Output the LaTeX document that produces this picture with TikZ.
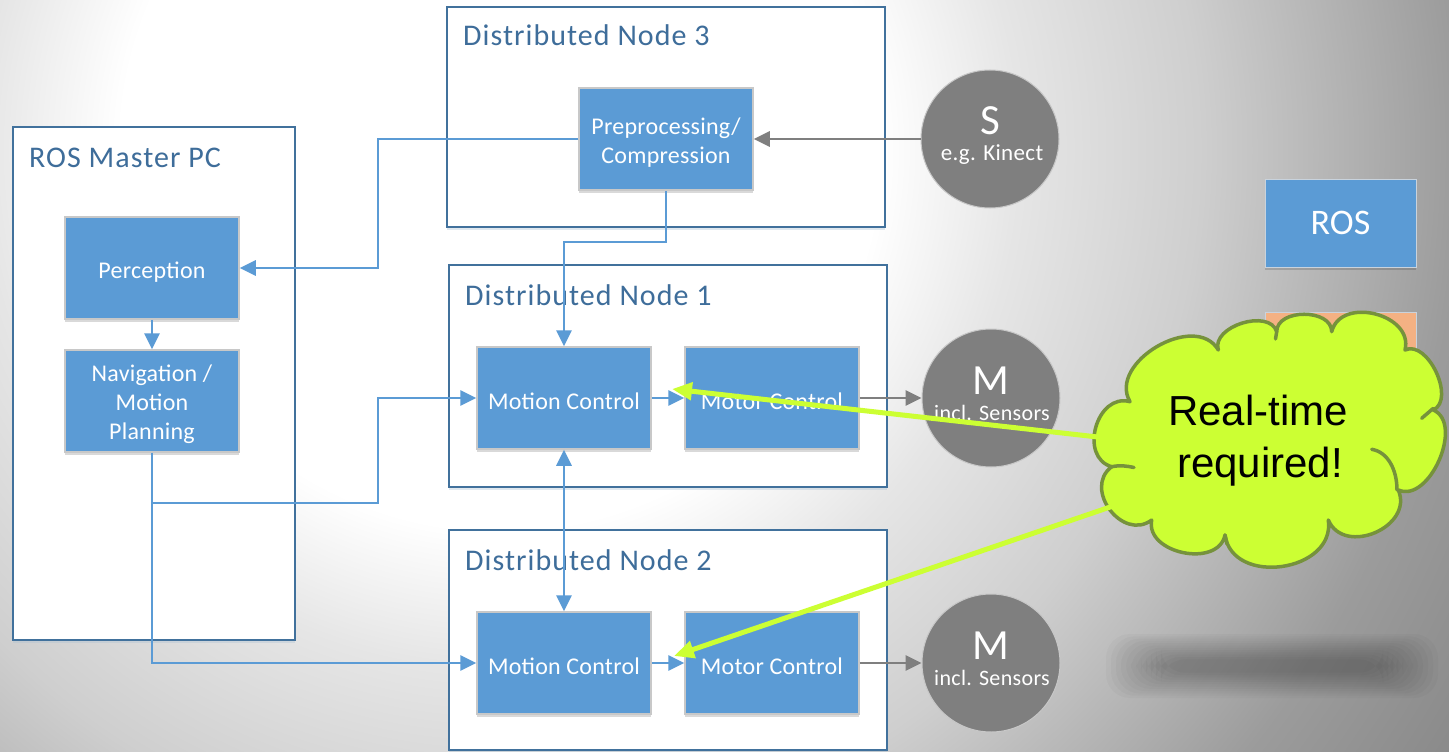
\documentclass[tikz,border=0pt]{standalone}
\usepackage{fontspec}
\setmainfont{Carlito}
\newfontfamily\helv{Liberation Sans}
\newfontfamily\ttlfont[LetterSpace=3.5]{Carlito}
\newfontfamily\blkfont[LetterSpace=1]{Carlito}
\newfontfamily\circfont[LetterSpace=1.5]{Carlito}
\newcommand{\tallstrut}{\rule{0pt}{24pt}}
\usetikzlibrary{arrows.meta,shadows,calc}

\definecolor{boxblue}{HTML}{5B9BD5}
\definecolor{frameblue}{HTML}{41719C}
\definecolor{titleblue}{HTML}{3E6D9A}
\definecolor{lineblue}{HTML}{5B9BD5}
\definecolor{boxedge}{HTML}{C8C8C8}
\definecolor{circgray}{HTML}{7F7F7F}
\definecolor{limegreen}{HTML}{CCFF33}
\definecolor{cloudedge}{HTML}{76923C}
\definecolor{orangebox}{HTML}{F4B183}
\definecolor{legendedge}{HTML}{C9D3DD}
\definecolor{bgA}{gray}{0.90}
\definecolor{bgB}{gray}{0.81}
\definecolor{bgC}{gray}{0.61}
\definecolor{bgD}{gray}{0.53}

\pgfdeclareradialshading{bgshade}{\pgfpointorigin}{color(0bp)=(white); color(7.9bp)=(white); color(10.8bp)=(bgA); color(14.6bp)=(bgB); color(20bp)=(bgC); color(24bp)=(bgD); color(50bp)=(bgD)}

\begin{document}
\begin{tikzpicture}[x=1pt,y=-1pt,
  frame/.style={draw=frameblue, line width=1.8pt, fill=white, inner sep=0pt,
    drop shadow={shadow xshift=0pt, shadow yshift=-3pt, opacity=0.35, fill=frameblue!45}},
  blk/.style={draw=boxedge, line width=1.5pt, fill=boxblue, text=white, align=center,
    inner sep=0pt, minimum width=174pt, minimum height=102pt,
    font=\blkfont\fontsize{24}{29}\selectfont,
    drop shadow={shadow xshift=0pt, shadow yshift=-3pt, opacity=0.15, fill=black}},
  ttl/.style={text=titleblue, font=\ttlfont\fontsize{30}{36}\selectfont, anchor=base west, inner sep=0pt},
  circ/.style={circle, fill=circgray, draw=boxedge, line width=1pt, minimum size=138pt, inner sep=0pt},
  bigl/.style={text=white, font=\fontsize{43}{48}\selectfont, anchor=base, inner sep=0pt},
  smalll/.style={text=white, font=\circfont\fontsize{22}{25}\selectfont, anchor=base, inner sep=0pt},
  legend/.style={draw=legendedge, line width=1pt, minimum width=151pt, minimum height=88pt,
    inner sep=0pt, text=white, font=\fontsize{36}{40}\selectfont,
    drop shadow={shadow xshift=0pt, shadow yshift=-3pt, opacity=0.15, fill=black}},
  conn/.style={draw=lineblue, line width=2.8pt},
  gconn/.style={draw=circgray, line width=2.8pt},
  >={Triangle[length=16pt,width=15pt]},
  cloudst/.style={draw=cloudedge, fill=limegreen, line width=3.5pt, line join=round},
  cloudin/.style={draw=cloudedge, line width=3.5pt, line cap=round},
  garrow/.style={draw=limegreen, line width=5pt, -{Triangle[length=20pt,width=17pt]}},
  cloudtxt/.style={font=\helv\fontsize{42}{52}\selectfont, text=black, anchor=base, inner sep=0pt}
]
\useasboundingbox (0,0) rectangle (1449,752);

% background
\begin{scope}
  \clip (0,0) rectangle (1449,752);
  \shade[shading=bgshade] (500,150) circle (1200pt);
  \foreach \i in {0,...,11} {
    \fill[black, opacity=0.024, rounded corners=24pt]
      (1106+\i*5, 634+\i*2.3) rectangle (1438-\i*5, 698-\i*2.3);
  }
\end{scope}

% containers
\node[frame, minimum width=282pt, minimum height=513pt] (master) at (154,383.5) {};
\node[frame, minimum width=438pt, minimum height=220pt] (dn3) at (666,117) {};
\node[frame, minimum width=438pt, minimum height=222pt] (dn1) at (668,376) {};
\node[frame, minimum width=438pt, minimum height=220pt] (dn2) at (668,640) {};

\node[ttl] (tm) at (29,167) {ROS Master PC};
\node[ttl] (t3) at (463,46) {Distributed Node 3};
\node[ttl] (t1) at (465,305) {Distributed Node 1};
\node[ttl] (t2) at (465,570) {Distributed Node 2};

% blocks
\node[blk] (perc) at (152,268) {\tallstrut Perception};
\node[blk] (nav) at (152,401) {\tallstrut Navigation /\\Motion\\Planning};
\node[blk] (pre) at (666,139) {\tallstrut Preprocessing/\\Compression};
\node[blk] (mc1) at (564,398) {\tallstrut Motion Control};
\node[blk] (mot1) at (772,398) {\tallstrut Motor Control};
\node[blk] (mc2) at (564,663) {\tallstrut Motion Control};
\node[blk] (mot2) at (772,663) {\tallstrut Motor Control};

% sensors / motors
\node[circ] (s) at (990,139) {};
\node[circ] (m1) at (991,398) {};
\node[circ] (m2) at (991,663) {};
\node[bigl] (sl) at (990,134) {S};
\node[smalll, font=\circfont\fontsize{23}{25}\selectfont] (sl2) at (992,160) {e.g. Kinect};
\node[bigl] (m1l) at (991,394) {M};
\node[smalll] (m1l2) at (992,420) {incl. Sensors};
\node[bigl] (m2l) at (991,659) {M};
\node[smalll] (m2l2) at (992,685) {incl. Sensors};

% legend
\node[legend, fill=boxblue] (ros) at (1340.5,223) {ROS};
\node[legend, fill=orangebox] (rtbox) at (1340.5,356) {};

% connectors
\coordinate (a1) at (378,139);
\coordinate (a2) at (666,242);
\coordinate (b1) at (378,503);
\draw[conn,->] (pre.west) -- (a1) |- (perc.east);
\draw[conn,->] (pre.south) -- (a2) -| (mc1.north);
\draw[conn,->] (perc.south) -- (nav.north);
\draw[conn,->] (nav.south) |- (b1) |- (mc1.west);
\draw[conn,->] (nav.south) |- (mc2.west);
\draw[conn,<->] (mc1.south) -- (mc2.north);
\draw[conn,->] (mc1.east) -- (mot1.west);
\draw[conn,->] (mc2.east) -- (mot2.west);
\draw[gconn,->] (s.west) -- (pre.east);
\draw[gconn,->] (mot1.east) -- (mot1.east -| m1.west);
\draw[gconn,->] (mot2.east) -- (mot2.east -| m2.west);

% cloud
\draw[cloudst] (1130,401.7)
  .. controls (1107.1,362.6) and (1195.4,310.9) .. (1218.3,350)
  .. controls (1210.9,326.4) and (1269.3,308.1) .. (1276.7,331.7)
  .. controls (1276.7,308.4) and (1331.7,308.4) .. (1331.7,331.7)
  .. controls (1340.7,295.8) and (1414,314.1) .. (1405,350)
  .. controls (1427.6,339.3) and (1455.9,399.3) .. (1433.3,410)
  .. controls (1464.4,423.6) and (1429.4,503.6) .. (1398.3,490)
  .. controls (1414.1,526.8) and (1344.1,556.8) .. (1328.3,520)
  .. controls (1335.8,571.9) and (1232.5,586.9) .. (1225,535)
  .. controls (1218.2,568.5) and (1144.9,553.5) .. (1151.7,520)
  .. controls (1122.5,541.9) and (1082.5,488.6) .. (1111.7,466.7)
  .. controls (1078.3,457.3) and (1096.6,392.3) .. (1130,401.7) -- cycle;
\draw[cloudin] (1371.7,449.3) .. controls (1388,452) and (1397,470) .. (1397,490);
\draw[cloudin] (1421.7,418.3) -- (1433.3,408.3);
\draw[cloudin] (1111.7,466.7) .. controls (1120,465) and (1127,466) .. (1134,467.5);
\draw[cloudin] (1276.7,331.7) -- (1275.5,339);
\draw[cloudin] (1225,535) -- (1227,544);

\node[cloudtxt] (rt1) at (1258,425) {Real-time};
\node[cloudtxt] (rt2) at (1260,477) {required!};

% callout arrows
\coordinate (g1s) at (1142,442);
\coordinate (g1e) at (672,389);
\coordinate (g2s) at (1157,491);
\coordinate (g2e) at (674,656);
\draw[garrow] (g1s) -- (g1e);
\draw[garrow] (g2s) -- (g2e);
\end{tikzpicture}
\end{document}
